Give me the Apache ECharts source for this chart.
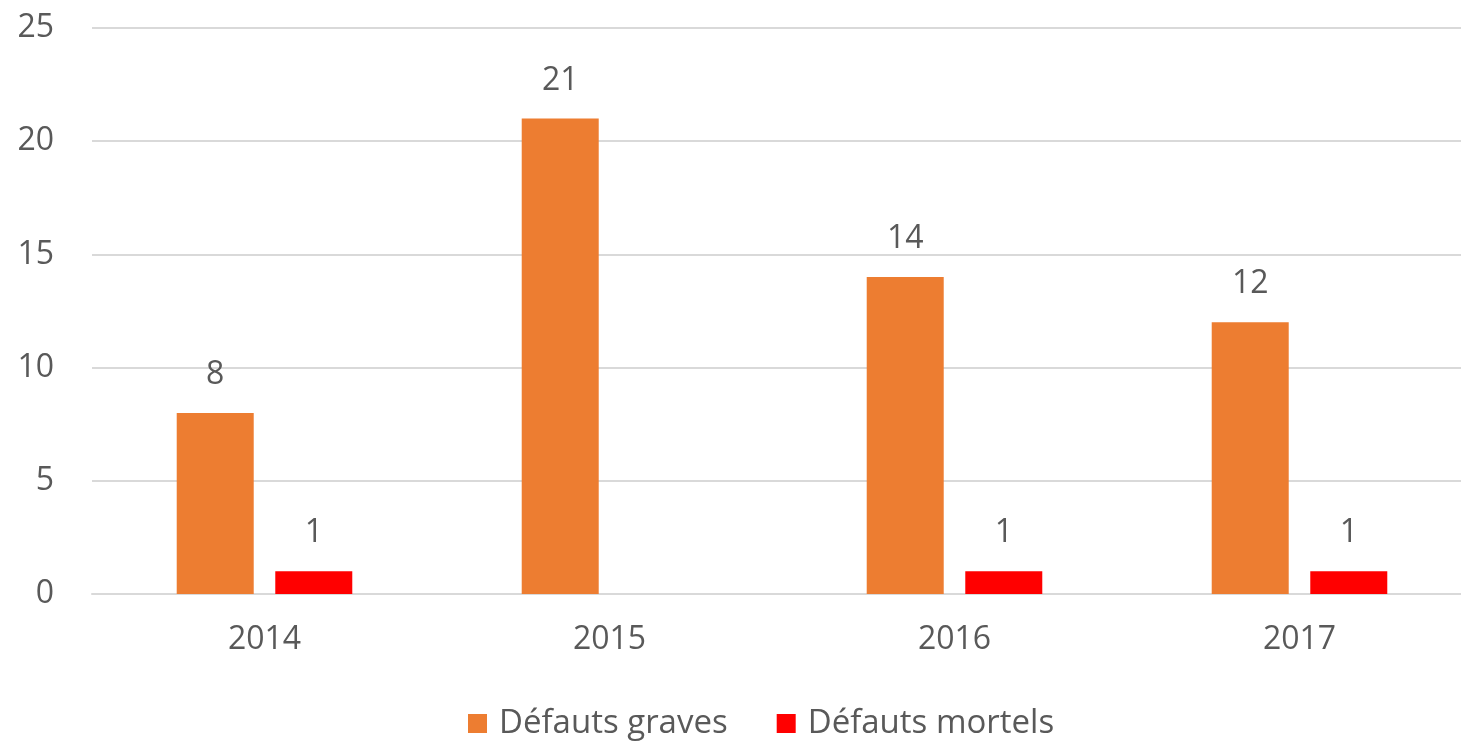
<!DOCTYPE html>
<html>
<head>
<meta charset="utf-8">
<script src="https://cdn.jsdelivr.net/npm/echarts@6/dist/echarts.min.js"></script>
<style>
  html, body { margin: 0; padding: 0; background: #fff; }
  #main { width: 1461px; height: 745px; }
</style>
</head>
<body>
<div id="main"></div>
<script>
const years = ['2014', '2015', '2016', '2017'];
const graves = [8, 21, 14, 12];
const mortels = [1, null, 1, 1];

window.addEventListener('load', function () {
    var chart = echarts.init(document.getElementById('main'));
    const font = '"Open Sans", "Noto Sans", sans-serif';
    const textColor = '#595959';

    let labelStyle = {
        show: true,
        position: 'top',
        distance: 22,
        color: textColor,
        fontSize: 32,
        fontFamily: font
    };

    let option = {
        animation: false,
        backgroundColor: '#ffffff',
        grid: {
            left: 92,
            top: 28,
            width: 1380,
            height: 566,
            outerBoundsMode: 'none'
        },
        legend: {
            top: 707,
            left: 468,
            padding: 0,
            itemWidth: 19,
            itemHeight: 19,
            itemGap: 49,
            icon: 'rect',
            textStyle: { color: textColor, fontSize: 33, fontFamily: font, padding: [0, 0, 0, 7] }
        },
        xAxis: {
            type: 'category',
            data: years,
            axisLine: { lineStyle: { color: '#d9d9d9', width: 2 } },
            axisTick: { show: false },
            axisLabel: { color: textColor, fontSize: 32, fontFamily: font, margin: 30 }
        },
        yAxis: {
            type: 'value',
            min: 0,
            max: 25,
            interval: 5,
            axisLine: { show: false },
            axisTick: { show: false },
            axisLabel: { color: textColor, fontSize: 32, fontFamily: font, margin: 38 },
            splitLine: { lineStyle: { color: '#d9d9d9', width: 2 } }
        },
        series: [
            {
                name: 'Défauts graves',
                type: 'bar',
                data: graves,
                barWidth: 77,
                barGap: '28%',
                itemStyle: { color: '#ed7d31' },
                label: labelStyle
            },
            {
                name: 'Défauts mortels',
                type: 'bar',
                data: mortels,
                barWidth: 77,
                itemStyle: { color: '#ff0000' },
                label: labelStyle
            }
        ]
    };
    chart.setOption(option);
});
</script>
</body>
</html>
